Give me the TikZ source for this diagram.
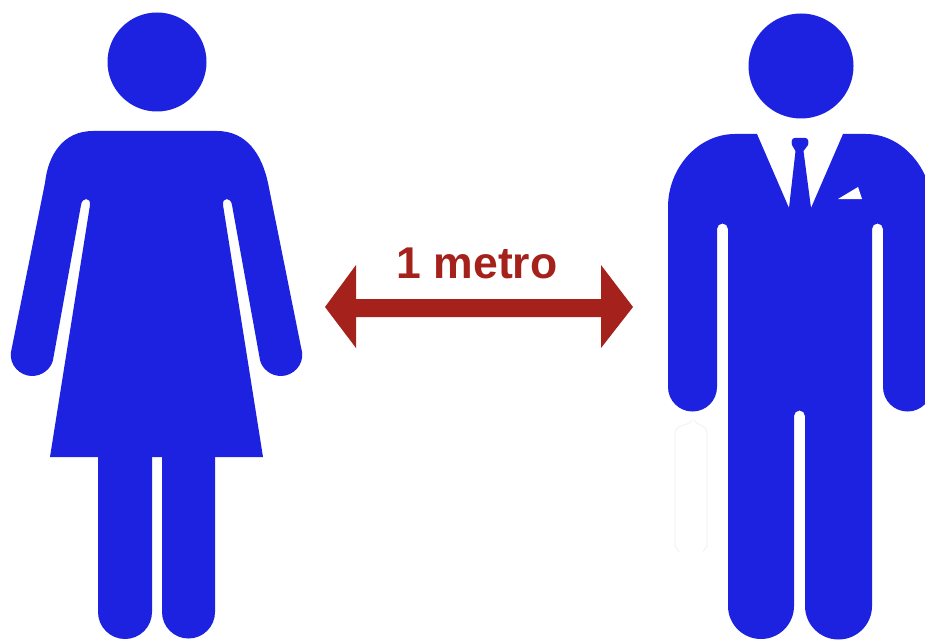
\documentclass[tikz,border=0pt]{standalone}
\usepackage{fontspec}
\setmainfont{Liberation Sans}
\definecolor{figblue}{HTML}{1D21E0}
\definecolor{arrowred}{HTML}{A5211B}
\definecolor{ghostline}{HTML}{F3F3F3}
\tikzset{figure/.style={fill=figblue,draw=none},
  arrowshape/.style={fill=arrowred,draw=none},
  ghost/.style={draw=ghostline,line width=1pt,fill=none}}
\begin{document}
\begin{tikzpicture}[x=1pt,y=1pt,yscale=-1]
\path[use as bounding box] (0,0) rectangle (925,639);
\clip (0,0) rectangle (925,639);
\fill[white] (0,0) rectangle (925,639);
% woman
\path[figure] (157,62) circle[radius=49.5];
\path[figure] (93,131) -- (217,131) .. controls (247,131) and (262,155) .. (268,183)
  -- (302,352) .. controls (304,365) and (293,376) .. (281,376)
  .. controls (271,376) and (262,369) .. (260,360)
  -- (232,205) .. controls (231,197) and (222,197) .. (223,205)
  -- (263,457) -- (50,457)
  -- (90,205) .. controls (91,197) and (82,197) .. (81,205)
  -- (53,360) .. controls (51,369) and (42,376) .. (32,376)
  .. controls (20,376) and (9,365) .. (11,352)
  -- (45,183) .. controls (48,155) and (63,131) .. (93,131) -- cycle;
\path[figure] (98,450) -- (152,450) -- (152,612) arc[start angle=0,end angle=180,radius=27] -- cycle;
\path[figure] (162,450) -- (215,450) -- (215,612) arc[start angle=0,end angle=180,radius=26.5] -- cycle;
% man
\path[figure] (801,66) circle[radius=52.5];
\path[figure] (757,134) -- (789,208) -- (795.5,151) -- (792,145)
  .. controls (791,141) and (792,138) .. (795,138) -- (805,138)
  .. controls (808,138) and (809,141) .. (808,145)
  -- (803.5,151) -- (811,208) -- (843,134) -- (866,134)
  .. controls (903,134) and (932,170) .. (932,207)
  -- (932,387) arc[start angle=0,end angle=180,radius=24.5]
  -- (883,229) arc[start angle=0,end angle=-180,radius=5.5]
  -- (872,606) arc[start angle=0,end angle=180,radius=33.5]
  -- (805,416) arc[start angle=0,end angle=-180,radius=5.5]
  -- (794,606) arc[start angle=0,end angle=180,radius=33]
  -- (728,229) arc[start angle=0,end angle=-180,radius=5.5]
  -- (717,387) arc[start angle=0,end angle=180,radius=24.5]
  -- (668,207) .. controls (668,168) and (698,134) .. (735,134) -- cycle;
\fill[white] (838,199) -- (858,187) -- (862,199) -- cycle;
% faint outline below the man's left hand
\draw[ghost] (692,420) .. controls (690,426) and (676,424) .. (675,432)
  -- (675,546) -- (679,552) (703,552) -- (707,546) -- (707,432)
  .. controls (706,424) and (696,426) .. (694,420);
% arrow
\path[arrowshape] (325,307) -- (356,265) -- (356,299) -- (601,299) -- (601,265)
  -- (633,307) -- (601,348) -- (601,317) -- (356,317) -- (356,348) -- cycle;
\node[text=arrowred,font=\fontsize{44.5}{44.5}\bfseries,inner sep=0pt] (label) at (477,263) {1 metro};
\end{tikzpicture}
\end{document}
